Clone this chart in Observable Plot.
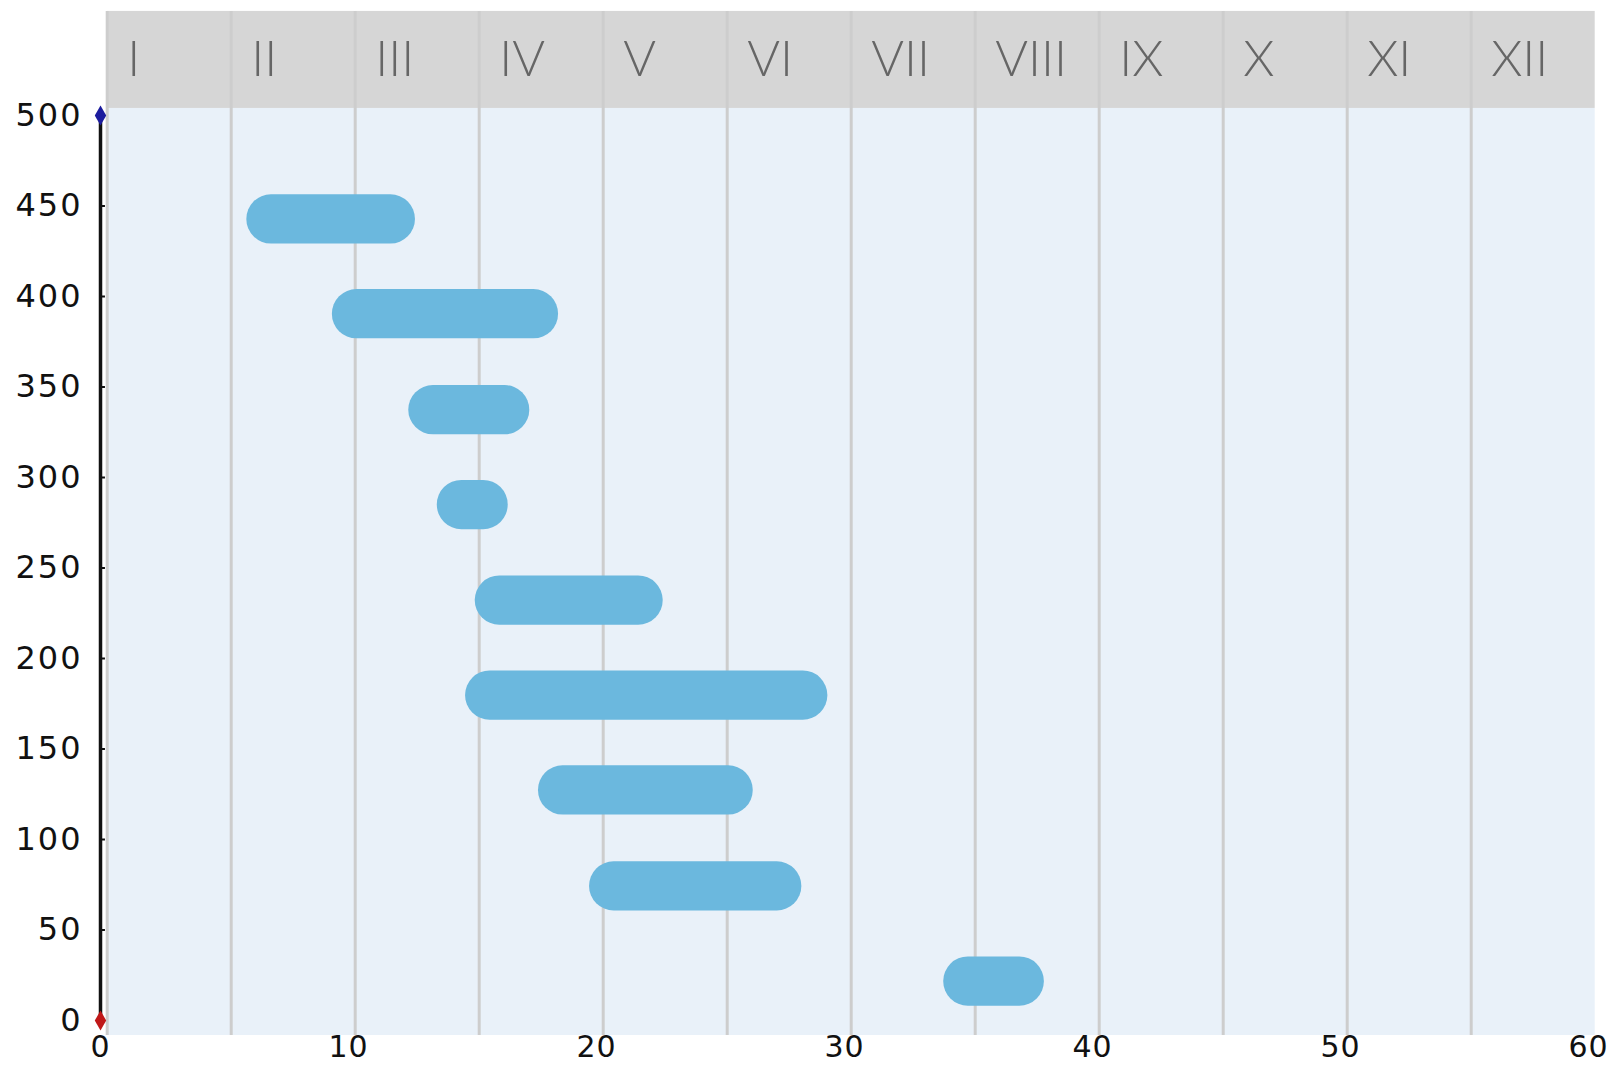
<!DOCTYPE html>
<html><head><meta charset="utf-8">
<script src="https://cdn.jsdelivr.net/npm/d3@7"></script>
<script src="https://cdn.jsdelivr.net/npm/@observablehq/plot@0.6"></script>
<style>
html,body{margin:0;padding:0;background:#fff;overflow:hidden}
g[aria-label="y-axis tick label"] text{letter-spacing:2px}
g[aria-label="x-axis tick label"] text{letter-spacing:1px}
</style>
</head><body><div id="chart"></div>
<script>
// ---- data ----
const months = ["I","II","III","IV","V","VI","VII","VIII","IX","X","XI","XII"];
const taskStart = [5.90, 9.35, 12.43, 13.58, 15.11, 14.72, 17.66, 19.72, 34.00];
const taskEnd   = [12.70, 18.47, 17.31, 16.44, 22.69, 29.33, 26.32, 28.28, 38.06];
const taskY     = [442.6, 390.2, 337.2, 284.8, 232.0, 179.5, 127.1, 74.1, 21.5];
const xTicks = [0, 10, 20, 30, 40, 50, 60];
const yTicks = [0, 50, 100, 150, 200, 250, 300, 350, 400, 450, 500];

// ---- layout constants ----
const monthWidth = 5, monthOffset = 0.27;
const plotBottom = -8.3, headerBottom = 503.9, headerTop = 557.5;
const barHalf = 13.6;

const tasks = taskStart.map((s, i) => ({start: s, end: taskEnd[i], y: taskY[i]}));
const monthData = months.map((m, i) => ({label: m, x1: i * monthWidth + monthOffset, x2: (i + 1) * monthWidth + monthOffset}));

const chart = Plot.plot({
  width: 1611, height: 1065,
  marginLeft: 100, marginRight: 23, marginTop: 115, marginBottom: 45,
  x: {domain: [0, 60]},
  y: {domain: [0, 500]},
  style: {fontFamily: "DejaVu Sans", fontSize: "32px", color: "#111", background: "#fff", overflow: "visible"},
  marks: [
    Plot.rect(monthData, {x1: "x1", x2: "x2", y1: plotBottom, y2: headerBottom, fill: "#e9f1f9"}),
    Plot.rect(monthData, {x1: "x1", x2: "x2", y1: headerBottom, y2: headerTop, fill: "#d6d6d6"}),
    Plot.ruleX(monthData, {x: "x1", y1: plotBottom, y2: headerTop, stroke: "#cdcdcd", strokeWidth: 3}),
    Plot.rect(tasks, {x1: "start", x2: "end", y1: d => d.y - barHalf, y2: d => d.y + barHalf, fill: "#6bb8de", rx: 24.6, ry: 24.6}),
    Plot.ruleX([0], {x: 0, y1: 0, y2: 500, stroke: "#111", strokeWidth: 3.5}),
    Plot.ruleY(yTicks, {y: d => d, x1: 0, x2: 0.2, stroke: "#111", strokeWidth: 2}),
    Plot.dot([500], {x: 0, y: d => d, symbol: "diamond", r: 6, fill: "#1c1c9e"}),
    Plot.dot([0], {x: 0, y: d => d, symbol: "diamond", r: 6, fill: "#c01818"}),
    Plot.axisY({ticks: yTicks, tickSize: 0, tickPadding: 18, label: null, fontSize: 32, fontFamily: "DejaVu Sans"}),
    Plot.axisX({ticks: xTicks, tickSize: 0, tickPadding: 15, label: null, fontSize: 30, fontFamily: "DejaVu Sans"}),
    Plot.text(monthData, {x: "x1", y: (headerBottom + headerTop) / 2, text: "label", textAnchor: "start", dx: 20, fontSize: 50, fontWeight: 300, fontFamily: "Lato", fill: "#666"})
  ]
});
document.getElementById("chart").appendChild(chart);
</script>
</body></html>
